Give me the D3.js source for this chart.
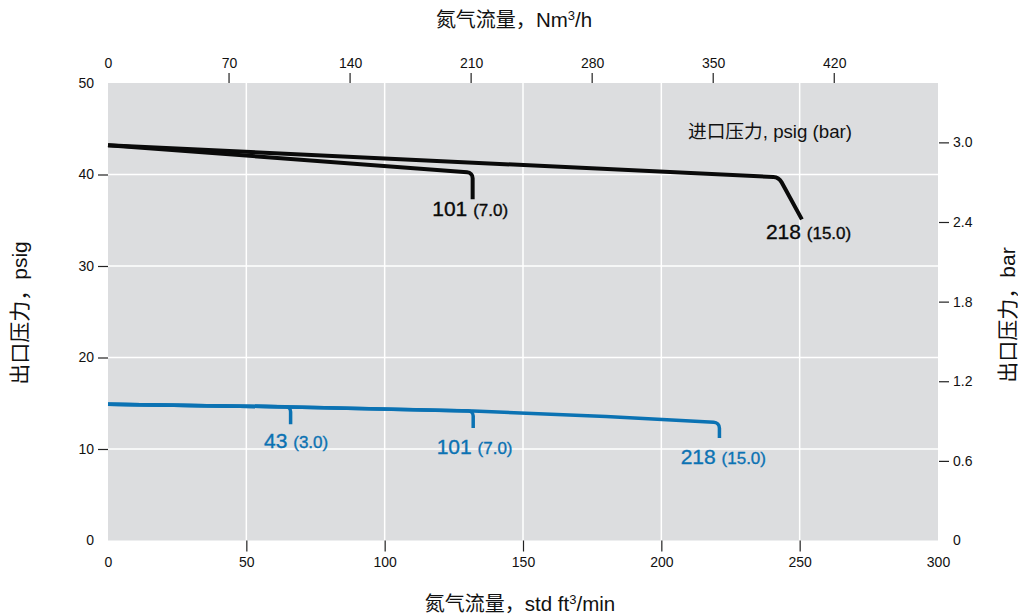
<!DOCTYPE html>
<html>
<head>
<meta charset="utf-8">
<script src="https://cdn.jsdelivr.net/npm/d3@7"></script>
<style>
  html, body { margin: 0; padding: 0; background: #ffffff; }
  svg { display: block; }
  text { font-family: "Liberation Sans", Arial, "Noto Sans CJK SC", sans-serif; fill: #111; }
</style>
</head>
<body>
<svg id="chart" width="1018" height="616"></svg>
<script>
// ---- Data ----
const bottomTicks = [0, 50, 100, 150, 200, 250, 300];        // std ft3/min
const topTicks = [0, 70, 140, 210, 280, 350, 420];           // Nm3/h
const leftTicks = [0, 10, 20, 30, 40, 50];                   // psig
const rightTicks = [0, 0.6, 1.2, 1.8, 2.4, 3.0];             // bar
const rightTickLabels = ["0", "0.6", "1.2", "1.8", "2.4", "3.0"];

// Curves: [flow scfm, outlet psig]
const black101 = [[0, 43.2], [131.8, 40.2], [131.8, 37.3]];
const black218 = [[0, 43.2], [242.5, 39.7], [250.8, 35.1]];
const blue43 = [[0, 14.9], [66, 14.6], [66, 12.7]];
const blue101 = [[0, 14.9], [66, 14.6], [132, 14.15], [132, 12.3]];
const blue218 = [[0, 14.9], [66, 14.6], [132, 14.15], [180, 13.55], [221, 12.9], [221, 11.2]];

const blackLabels = [["101", "(7.0)"], ["218", "(15.0)"]];
const blueLabels = [["43", "(3.0)"], ["101", "(7.0)"], ["218", "(15.0)"]];
// label anchor points in data units [flow, psig]
const blackLabelPos = [[117.2, 35.5], [237.8, 32.9]];
const blueLabelPos = [[56.4, 10.1], [118.8, 9.45], [207, 8.4]];

// ---- Layout ----
const X0 = 108, X1 = 938, Y0 = 540.5, Y1 = 83;
const svg = d3.select("#chart");
const BLACK = "#0a0a0a", BLUE = "#0b72b3";

const x = d3.scaleLinear().domain([0, 300]).range([X0, X1]);
const xTop = d3.scaleLinear().domain([0, 480]).range([X0, X1]);
const y = d3.scaleLinear().domain([0, 50]).range([Y0, Y1]);
const yRight = d3.scaleLinear().domain([0, 50 / 14.5038]).range([Y0, Y1]);

// background
svg.append("rect").attr("x", X0).attr("y", Y1).attr("width", X1 - X0).attr("height", Y0 - Y1)
  .attr("fill", "#dcdddf");

// grid
svg.append("g").selectAll("line").data(bottomTicks.filter(d => d > 0 && d < 300)).join("line")
  .attr("x1", d => x(d)).attr("x2", d => x(d)).attr("y1", Y1).attr("y2", Y0)
  .attr("stroke", "#ffffff").attr("stroke-width", 1.5);
svg.append("g").selectAll("line").data(leftTicks.filter(d => d > 0 && d < 50)).join("line")
  .attr("x1", X0).attr("x2", X1).attr("y1", d => y(d)).attr("y2", d => y(d))
  .attr("stroke", "#ffffff").attr("stroke-width", 1.5);

function styleAxis(g, hideVals) {
  g.select(".domain").remove();
  g.selectAll(".tick line").attr("stroke", "#222").attr("stroke-width", 1.2)
    .attr("opacity", d => hideVals.includes(d) ? 0 : 1);
  g.selectAll(".tick text").attr("font-size", 14).attr("fill", "#111")
    .attr("font-family", "'Liberation Sans', Arial, sans-serif");
}

// bottom axis
svg.append("g").attr("transform", `translate(0,${Y0})`)
  .call(d3.axisBottom(x).tickValues(bottomTicks).tickSize(11).tickPadding(6).tickFormat(d3.format("d")))
  .call(g => styleAxis(g, [0, 300]));
// top axis
svg.append("g").attr("transform", `translate(0,${Y1 - 10})`)
  .call(d3.axisTop(xTop).tickValues(topTicks).tickSize(0).tickPadding(5).tickFormat(d3.format("d")))
  .call(g => styleAxis(g, [0]));
svg.append("g").selectAll("line").data(topTicks.filter(d => d > 0)).join("line")
  .attr("x1", d => xTop(d)).attr("x2", d => xTop(d)).attr("y1", Y1 - 10).attr("y2", Y1)
  .attr("stroke", "#222").attr("stroke-width", 1.2);
// left axis
svg.append("g").attr("transform", `translate(${X0},0)`)
  .call(d3.axisLeft(y).tickValues(leftTicks).tickSize(10).tickPadding(4).tickFormat(d3.format("d")))
  .call(g => styleAxis(g, [0, 50]));
// right axis
svg.append("g").attr("transform", `translate(${X1 + 1},0)`)
  .call(d3.axisRight(yRight).tickValues(rightTicks).tickSize(10).tickPadding(4)
    .tickFormat((d, i) => rightTickLabels[i]))
  .call(g => styleAxis(g, [0]));

// axis titles
function supTitle(sel, cjk, before, sup, after) {
  sel.append("tspan").attr("font-size", 20).attr("font-family", "'Noto Sans CJK SC', sans-serif").text(cjk);
  sel.append("tspan").text(before);
  sel.append("tspan").attr("font-size", 13).attr("dy", -7).text(sup);
  sel.append("tspan").attr("dy", 7).text(after);
}
const topTitle = svg.append("text").attr("x", 514).attr("y", 27).attr("text-anchor", "middle")
  .attr("font-size", 20.5);
supTitle(topTitle, "氮气流量，", "Nm", "3", "/h");
const botTitle = svg.append("text").attr("x", 520).attr("y", 611).attr("text-anchor", "middle")
  .attr("font-size", 20.5);
supTitle(botTitle, "氮气流量，", "std ft", "3", "/min");
svg.append("text").attr("transform", "translate(27,313) rotate(-90)").attr("text-anchor", "middle")
  .attr("font-size", 21).text("出口压力，psig");
svg.append("text").attr("transform", "translate(1015,315) rotate(-90)").attr("text-anchor", "middle")
  .attr("font-size", 21).text("出口压力，bar");

svg.append("text").attr("x", 688).attr("y", 138).attr("font-size", 18.7).text("进口压力, psig (bar)");

// curves with rounded last corner
function hookPath(pts, r) {
  const p = d3.path();
  const P = pts.map(d => [x(d[0]), y(d[1])]);
  p.moveTo(P[0][0], P[0][1]);
  for (let i = 1; i < P.length - 2; i++) p.lineTo(P[i][0], P[i][1]);
  const c = P[P.length - 2], e = P[P.length - 1];
  p.arcTo(c[0], c[1], e[0], e[1], r);
  p.lineTo(e[0], e[1]);
  return p.toString();
}
const curves = [
  [blue43, BLUE, 3.5, 5], [blue101, BLUE, 3.5, 5], [blue218, BLUE, 3.5, 6],
  [black101, BLACK, 4, 6], [black218, BLACK, 4, 10]
];
svg.append("g").selectAll("path").data(curves).join("path")
  .attr("d", d => hookPath(d[0], d[3]))
  .attr("fill", "none").attr("stroke", d => d[1]).attr("stroke-width", d => d[2])
  .attr("stroke-linejoin", "round").attr("stroke-linecap", "butt");

function labels(data, pos, color) {
  const t = svg.append("g").selectAll("text").data(data).join("text")
    .attr("x", (d, i) => x(pos[i][0])).attr("y", (d, i) => y(pos[i][1]))
    .attr("fill", color).attr("stroke", color).attr("stroke-width", 0.35);
  t.append("tspan").attr("font-size", 21).attr("fill", color).text(d => d[0] + " ");
  t.append("tspan").attr("font-size", 17).attr("fill", color).text(d => d[1]);
}
labels(blackLabels, blackLabelPos, BLACK);
labels(blueLabels, blueLabelPos, BLUE);
</script>
</body>
</html>
